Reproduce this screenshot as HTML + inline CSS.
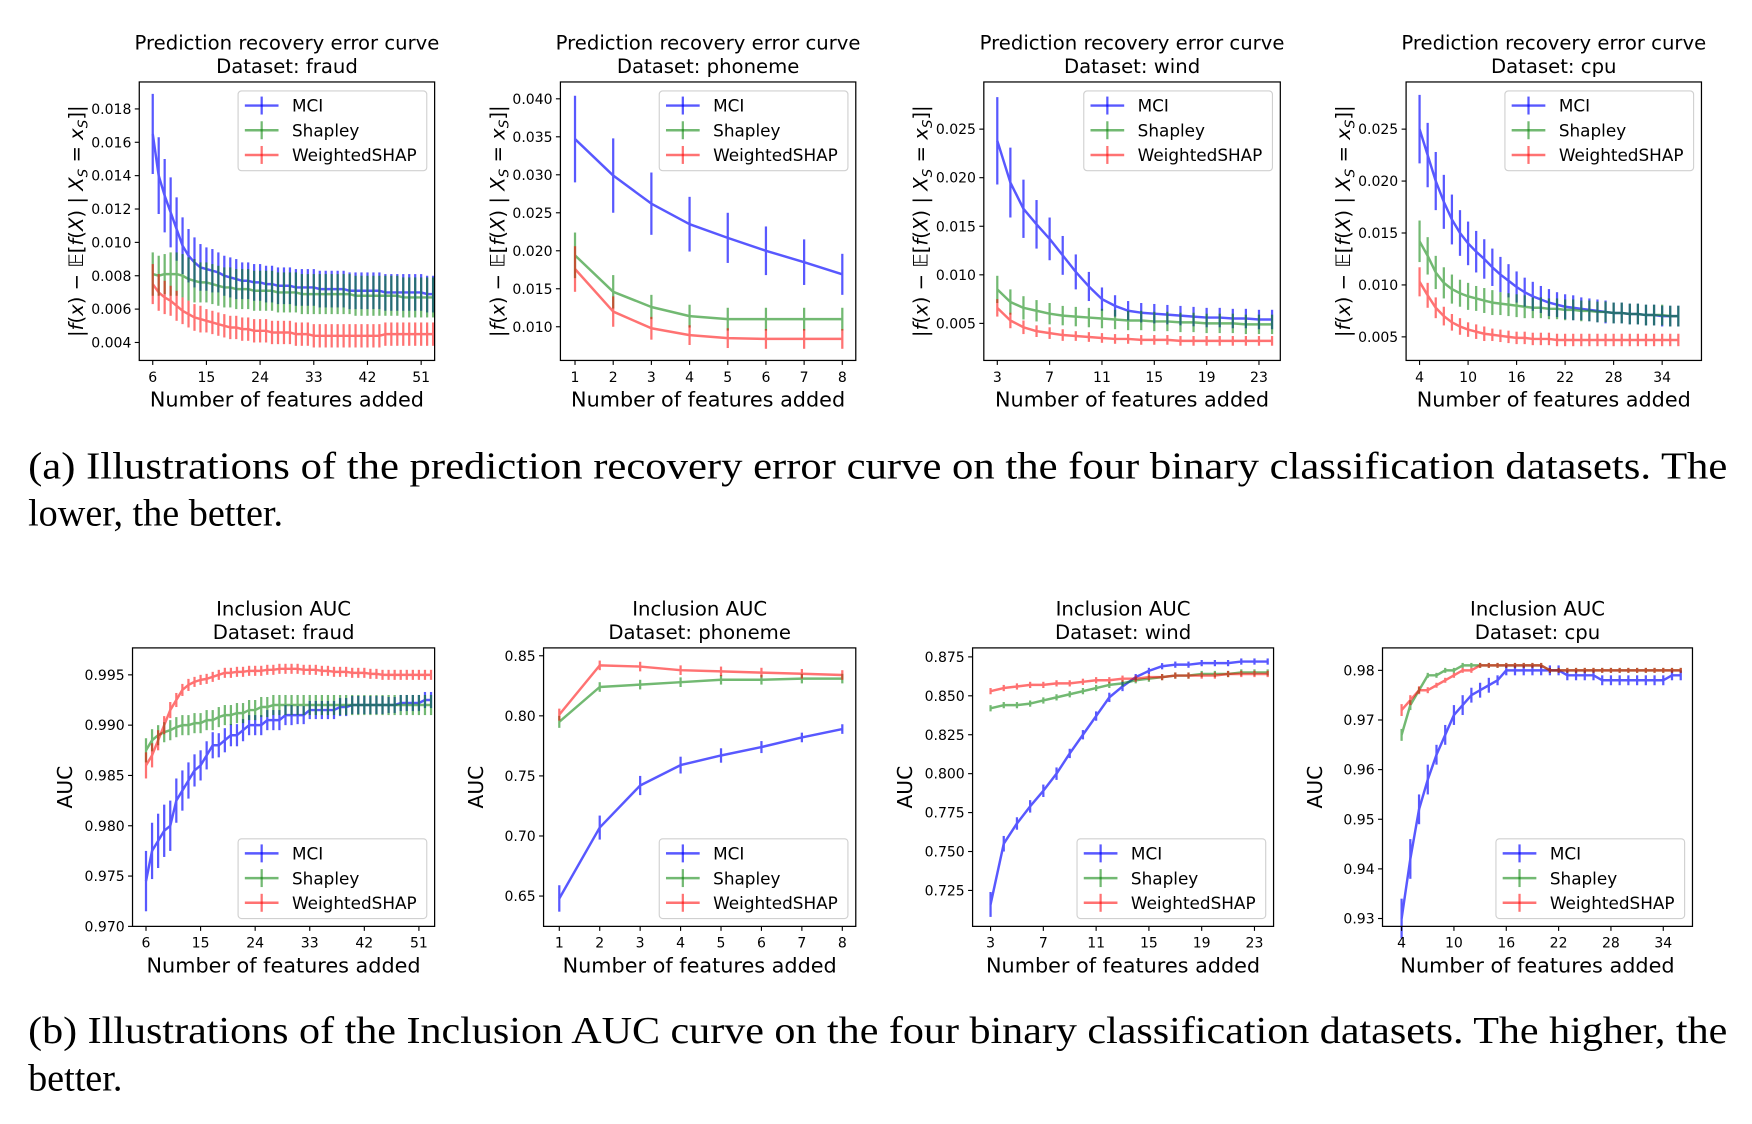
<!DOCTYPE html>
<html><head><meta charset="utf-8">
<style>
html,body{margin:0;padding:0;background:#fff;}
svg{display:block;}
text{font-family:"DejaVu Sans","Liberation Sans",sans-serif;fill:#000;}
.cap{font-family:"Liberation Serif",serif;font-size:34px;}
</style></head>
<body>
<svg id="fig" width="1752" height="1124" viewBox="0 0 1560 1001" preserveAspectRatio="none" xmlns="http://www.w3.org/2000/svg">
<text class="cap" x="25" y="426" textLength="1513" lengthAdjust="spacingAndGlyphs">(a) Illustrations of the prediction recovery error curve on the four binary classification datasets. The</text>
<text class="cap" x="25" y="468">lower, the better.</text>
<text class="cap" x="25" y="929" textLength="1513" lengthAdjust="spacingAndGlyphs">(b) Illustrations of the Inclusion AUC curve on the four binary classification datasets. The higher, the</text>
<text class="cap" x="25" y="971">better.</text>
</svg>
<script>
// ---------- DATA ----------
const seriesNames = ["MCI","Shapley","WeightedSHAP"];
// Row 1: prediction recovery error
const errFraudX0 = 6;
const errFraudMCI = [0.0165,0.0140,0.0128,0.0118,0.0108,0.0098,0.0092,0.0088,0.0085,0.0084,0.0083,0.0082,0.0080,0.0079,0.0078,0.0077,0.0077,0.0076,0.0076,0.0075,0.0075,0.0074,0.0074,0.0074,0.0073,0.0073,0.0073,0.0073,0.0072,0.0072,0.0072,0.0072,0.0072,0.0071,0.0071,0.0071,0.0071,0.0071,0.0071,0.0070,0.0070,0.0070,0.0070,0.0070,0.0070,0.0070,0.0069,0.0069];
const errFraudMCIe = [0.0024,0.0023,0.0022,0.0021,0.0019,0.0017,0.0016,0.0015,0.0014,0.0013,0.0013,0.0012,0.0012,0.0012,0.0012,0.0011,0.0011,0.0011,0.0011,0.0011,0.0011,0.0011,0.0011,0.0011,0.0011,0.0011,0.0011,0.0011,0.0011,0.0011,0.0011,0.0011,0.0011,0.0011,0.0011,0.0011,0.0011,0.0011,0.0011,0.0011,0.0011,0.0011,0.0011,0.0011,0.0011,0.0011,0.0011,0.0011];
const errFraudShap = [0.0081,0.0080,0.0081,0.0081,0.0081,0.0080,0.0078,0.0077,0.0076,0.0076,0.0075,0.0074,0.0073,0.0073,0.0072,0.0072,0.0072,0.0071,0.0071,0.0071,0.0071,0.0070,0.0070,0.0070,0.0070,0.0069,0.0069,0.0069,0.0069,0.0069,0.0069,0.0069,0.0069,0.0069,0.0068,0.0068,0.0068,0.0068,0.0068,0.0068,0.0068,0.0068,0.0067,0.0067,0.0067,0.0067,0.0067,0.0067];
const errFraudShape = [0.0013,0.0012,0.0012,0.0013,0.0013,0.0013,0.0013,0.0013,0.0012,0.0012,0.0012,0.0012,0.0012,0.0012,0.0012,0.0012,0.0012,0.0012,0.0012,0.0012,0.0012,0.0012,0.0012,0.0012,0.0012,0.0012,0.0012,0.0012,0.0012,0.0012,0.0012,0.0012,0.0012,0.0012,0.0012,0.0012,0.0012,0.0012,0.0012,0.0012,0.0012,0.0012,0.0012,0.0012,0.0012,0.0012,0.0012,0.0012];
const errFraudW = [0.0075,0.0070,0.0067,0.0065,0.0062,0.0059,0.0057,0.0055,0.0054,0.0053,0.0052,0.0051,0.0050,0.0049,0.0049,0.0048,0.0048,0.0047,0.0047,0.0047,0.0046,0.0046,0.0046,0.0046,0.0045,0.0045,0.0045,0.0044,0.0044,0.0044,0.0044,0.0044,0.0044,0.0044,0.0044,0.0044,0.0044,0.0044,0.0044,0.0045,0.0045,0.0045,0.0045,0.0045,0.0045,0.0045,0.0045,0.0045];
const errFraudWe = [0.0012,0.0011,0.0010,0.0009,0.0009,0.0008,0.0008,0.0008,0.0008,0.0007,0.0007,0.0007,0.0007,0.0007,0.0007,0.0007,0.0007,0.0007,0.0007,0.0007,0.0007,0.0007,0.0007,0.0007,0.0007,0.0007,0.0007,0.0007,0.0007,0.0007,0.0007,0.0007,0.0007,0.0007,0.0007,0.0007,0.0007,0.0007,0.0007,0.0007,0.0007,0.0007,0.0007,0.0007,0.0007,0.0007,0.0007,0.0007];

const errPhonX0 = 1;
const errPhonMCI = [0.0347,0.0299,0.0262,0.0235,0.0217,0.0200,0.0185,0.0169];
const errPhonMCIe = [0.0057,0.0049,0.0041,0.0036,0.0033,0.0032,0.0030,0.0027];
const errPhonShap = [0.0194,0.0146,0.0126,0.0114,0.0110,0.0110,0.0110,0.0110];
const errPhonShape = [0.0030,0.0022,0.0016,0.0015,0.0015,0.0015,0.0015,0.0015];
const errPhonW = [0.0176,0.0120,0.0098,0.0089,0.0085,0.0084,0.0084,0.0084];
const errPhonWe = [0.0030,0.0020,0.0015,0.0013,0.0013,0.0013,0.0013,0.0013];

const errWindX0 = 3;
const errWindMCI = [0.0238,0.0195,0.0168,0.0152,0.0137,0.0120,0.0103,0.0088,0.0075,0.0068,0.0063,0.0061,0.0060,0.0059,0.0058,0.0057,0.0056,0.0056,0.0055,0.0055,0.0054,0.0054];
const errWindMCIe = [0.0045,0.0036,0.0030,0.0025,0.0022,0.0020,0.0018,0.0015,0.0012,0.0011,0.0010,0.0010,0.0010,0.0010,0.0010,0.0010,0.0010,0.0010,0.0010,0.0010,0.0010,0.0010];
const errWindShap = [0.0085,0.0072,0.0066,0.0063,0.0060,0.0058,0.0057,0.0056,0.0055,0.0054,0.0053,0.0053,0.0052,0.0052,0.0051,0.0051,0.0050,0.0050,0.0050,0.0049,0.0049,0.0049];
const errWindShape = [0.0014,0.0013,0.0012,0.0011,0.0011,0.0010,0.0010,0.0010,0.0010,0.0010,0.0010,0.0010,0.0010,0.0010,0.0010,0.0010,0.0010,0.0010,0.0010,0.0010,0.0010,0.0010];
const errWindW = [0.0066,0.0053,0.0046,0.0042,0.0040,0.0038,0.0037,0.0036,0.0035,0.0034,0.0034,0.0033,0.0033,0.0033,0.0032,0.0032,0.0032,0.0032,0.0032,0.0032,0.0032,0.0032];
const errWindWe = [0.0009,0.0008,0.0007,0.0006,0.0006,0.0006,0.0005,0.0005,0.0005,0.0005,0.0005,0.0005,0.0005,0.0005,0.0005,0.0005,0.0005,0.0005,0.0005,0.0005,0.0005,0.0005];

const errCpuX0 = 4;
const errCpuMCI = [0.0250,0.0225,0.0200,0.0180,0.0163,0.0150,0.0140,0.0132,0.0125,0.0117,0.0110,0.0104,0.0098,0.0093,0.0089,0.0086,0.0083,0.0081,0.0079,0.0078,0.0077,0.0076,0.0075,0.0074,0.0073,0.0073,0.0072,0.0072,0.0071,0.0071,0.0070,0.0070,0.0070];
const errCpuMCIe = [0.0033,0.0031,0.0028,0.0026,0.0024,0.0022,0.0021,0.0020,0.0019,0.0018,0.0017,0.0016,0.0015,0.0014,0.0014,0.0013,0.0013,0.0012,0.0012,0.0012,0.0011,0.0011,0.0011,0.0011,0.0010,0.0010,0.0010,0.0010,0.0010,0.0010,0.0010,0.0010,0.0010];
const errCpuShap = [0.0142,0.0128,0.0112,0.0102,0.0096,0.0092,0.0089,0.0087,0.0085,0.0083,0.0082,0.0081,0.0080,0.0079,0.0078,0.0078,0.0077,0.0077,0.0076,0.0076,0.0075,0.0075,0.0074,0.0074,0.0073,0.0073,0.0072,0.0072,0.0071,0.0071,0.0071,0.0070,0.0070];
const errCpuShape = [0.0020,0.0018,0.0016,0.0015,0.0014,0.0013,0.0013,0.0012,0.0012,0.0012,0.0011,0.0011,0.0011,0.0011,0.0010,0.0010,0.0010,0.0010,0.0010,0.0010,0.0010,0.0010,0.0010,0.0010,0.0010,0.0010,0.0010,0.0010,0.0010,0.0010,0.0010,0.0010,0.0010];
const errCpuW = [0.0103,0.0090,0.0078,0.0070,0.0064,0.0060,0.0057,0.0055,0.0053,0.0052,0.0051,0.0050,0.0049,0.0049,0.0048,0.0048,0.0048,0.0047,0.0047,0.0047,0.0047,0.0047,0.0047,0.0047,0.0047,0.0047,0.0047,0.0047,0.0047,0.0047,0.0047,0.0047,0.0047];
const errCpuWe = [0.0014,0.0012,0.0010,0.0009,0.0008,0.0008,0.0007,0.0007,0.0007,0.0006,0.0006,0.0006,0.0006,0.0006,0.0006,0.0006,0.0006,0.0006,0.0006,0.0006,0.0006,0.0006,0.0006,0.0006,0.0006,0.0006,0.0006,0.0006,0.0006,0.0006,0.0006,0.0006,0.0006];

// Row 2: inclusion AUC
const aucFraudX0 = 6;
const aucFraudMCI = [0.9745,0.9775,0.9785,0.9795,0.9800,0.9825,0.9835,0.9845,0.9855,0.9860,0.9870,0.9880,0.9880,0.9885,0.9890,0.9890,0.9895,0.9900,0.9900,0.9900,0.9905,0.9905,0.9905,0.9910,0.9910,0.9910,0.9910,0.9915,0.9915,0.9915,0.9915,0.9915,0.9918,0.9918,0.9920,0.9920,0.9920,0.9920,0.9920,0.9920,0.9920,0.9920,0.9922,0.9922,0.9922,0.9922,0.9925,0.9925];
const aucFraudMCIe = [0.0030,0.0028,0.0027,0.0026,0.0025,0.0022,0.0020,0.0018,0.0016,0.0015,0.0014,0.0013,0.0012,0.0012,0.0011,0.0011,0.0011,0.0010,0.0010,0.0010,0.0010,0.0010,0.0010,0.0010,0.0010,0.0009,0.0009,0.0009,0.0009,0.0009,0.0009,0.0009,0.0009,0.0009,0.0009,0.0009,0.0009,0.0009,0.0009,0.0009,0.0008,0.0008,0.0008,0.0008,0.0008,0.0008,0.0008,0.0008];
const aucFraudShap = [0.9875,0.9885,0.9890,0.9893,0.9895,0.9898,0.9900,0.9900,0.9902,0.9902,0.9905,0.9905,0.9908,0.9910,0.9910,0.9912,0.9912,0.9915,0.9915,0.9918,0.9918,0.9920,0.9920,0.9920,0.9920,0.9920,0.9920,0.9920,0.9920,0.9920,0.9920,0.9920,0.9920,0.9920,0.9920,0.9920,0.9920,0.9920,0.9920,0.9920,0.9920,0.9920,0.9920,0.9920,0.9920,0.9920,0.9920,0.9920];
const aucFraudShape = [0.0012,0.0011,0.0010,0.0010,0.0010,0.0010,0.0010,0.0010,0.0010,0.0010,0.0010,0.0010,0.0010,0.0010,0.0010,0.0010,0.0010,0.0010,0.0010,0.0010,0.0010,0.0010,0.0010,0.0010,0.0010,0.0010,0.0010,0.0010,0.0010,0.0010,0.0010,0.0010,0.0010,0.0010,0.0010,0.0010,0.0010,0.0010,0.0010,0.0010,0.0010,0.0010,0.0010,0.0010,0.0010,0.0010,0.0010,0.0010];
const aucFraudW = [0.9860,0.9870,0.9885,0.9900,0.9915,0.9925,0.9935,0.9940,0.9943,0.9945,0.9946,0.9948,0.9950,0.9952,0.9952,0.9953,0.9953,0.9954,0.9954,0.9954,0.9955,0.9955,0.9956,0.9956,0.9956,0.9956,0.9955,0.9955,0.9955,0.9954,0.9954,0.9953,0.9953,0.9953,0.9952,0.9952,0.9952,0.9951,0.9951,0.9950,0.9950,0.9950,0.9950,0.9950,0.9950,0.9950,0.9950,0.9950];
const aucFraudWe = [0.0013,0.0012,0.0010,0.0009,0.0008,0.0007,0.0006,0.0006,0.0005,0.0005,0.0005,0.0005,0.0005,0.0005,0.0005,0.0005,0.0005,0.0005,0.0005,0.0005,0.0005,0.0005,0.0005,0.0005,0.0005,0.0005,0.0005,0.0005,0.0005,0.0005,0.0005,0.0005,0.0005,0.0005,0.0005,0.0005,0.0005,0.0005,0.0005,0.0005,0.0005,0.0005,0.0005,0.0005,0.0005,0.0005,0.0005,0.0005];

const aucPhonX0 = 1;
const aucPhonMCI = [0.648,0.707,0.742,0.759,0.767,0.774,0.782,0.789];
const aucPhonMCIe = [0.011,0.010,0.008,0.007,0.006,0.005,0.004,0.004];
const aucPhonShap = [0.795,0.824,0.826,0.828,0.830,0.830,0.831,0.831];
const aucPhonShape = [0.005,0.004,0.004,0.004,0.004,0.004,0.004,0.004];
const aucPhonW = [0.801,0.842,0.841,0.838,0.837,0.836,0.835,0.834];
const aucPhonWe = [0.005,0.004,0.004,0.004,0.004,0.004,0.004,0.004];

const aucWindX0 = 3;
const aucWindMCI = [0.716,0.755,0.768,0.779,0.789,0.800,0.813,0.825,0.837,0.849,0.856,0.862,0.866,0.869,0.870,0.870,0.871,0.871,0.871,0.872,0.872,0.872];
const aucWindMCIe = [0.008,0.005,0.004,0.004,0.004,0.004,0.003,0.003,0.003,0.003,0.003,0.002,0.002,0.002,0.002,0.002,0.002,0.002,0.002,0.002,0.002,0.002];
const aucWindShap = [0.842,0.844,0.844,0.845,0.847,0.849,0.851,0.853,0.855,0.857,0.858,0.860,0.861,0.862,0.863,0.863,0.864,0.864,0.864,0.865,0.865,0.865];
const aucWindShape = [0.002,0.002,0.002,0.002,0.002,0.002,0.002,0.002,0.002,0.002,0.002,0.002,0.002,0.002,0.002,0.002,0.002,0.002,0.002,0.002,0.002,0.002];
const aucWindW = [0.853,0.855,0.856,0.857,0.857,0.858,0.858,0.859,0.860,0.860,0.861,0.861,0.862,0.862,0.863,0.863,0.863,0.863,0.864,0.864,0.864,0.864];
const aucWindWe = [0.002,0.002,0.002,0.002,0.002,0.002,0.002,0.002,0.002,0.002,0.002,0.002,0.002,0.002,0.002,0.002,0.002,0.002,0.002,0.002,0.002,0.002];

const aucCpuX0 = 4;
const aucCpuMCI = [0.930,0.942,0.952,0.958,0.963,0.967,0.971,0.973,0.975,0.976,0.977,0.978,0.980,0.980,0.980,0.980,0.980,0.980,0.980,0.979,0.979,0.979,0.979,0.978,0.978,0.978,0.978,0.978,0.978,0.978,0.978,0.979,0.979];
const aucCpuMCIe = [0.004,0.004,0.003,0.003,0.002,0.002,0.002,0.002,0.0015,0.0015,0.0015,0.001,0.001,0.001,0.001,0.001,0.001,0.001,0.001,0.001,0.001,0.001,0.001,0.001,0.001,0.001,0.001,0.001,0.001,0.001,0.001,0.001,0.001];
const aucCpuShap = [0.967,0.973,0.976,0.979,0.979,0.980,0.980,0.981,0.981,0.981,0.981,0.981,0.981,0.981,0.981,0.981,0.981,0.980,0.980,0.980,0.980,0.980,0.980,0.980,0.980,0.980,0.980,0.980,0.980,0.980,0.980,0.980,0.980];
const aucCpuShape = [0.0012,0.001,0.0006,0.0005,0.0005,0.0005,0.0005,0.0005,0.0005,0.0005,0.0005,0.0005,0.0005,0.0005,0.0005,0.0005,0.0005,0.0005,0.0005,0.0005,0.0005,0.0005,0.0005,0.0005,0.0005,0.0005,0.0005,0.0005,0.0005,0.0005,0.0005,0.0005,0.0005];
const aucCpuW = [0.972,0.974,0.976,0.976,0.977,0.978,0.979,0.980,0.980,0.981,0.981,0.981,0.981,0.981,0.981,0.981,0.981,0.980,0.980,0.980,0.980,0.980,0.980,0.980,0.980,0.980,0.980,0.980,0.980,0.980,0.980,0.980,0.980];
const aucCpuWe = [0.0012,0.001,0.0008,0.0006,0.0005,0.0005,0.0005,0.0005,0.0005,0.0005,0.0005,0.0005,0.0005,0.0005,0.0005,0.0005,0.0005,0.0005,0.0005,0.0005,0.0005,0.0005,0.0005,0.0005,0.0005,0.0005,0.0005,0.0005,0.0005,0.0005,0.0005,0.0005,0.0005];

// tick labels
const errFraudYT = ["0.004","0.006","0.008","0.010","0.012","0.014","0.016","0.018"];
const errFraudXT = [6,15,24,33,42,51];
const errPhonYT = ["0.010","0.015","0.020","0.025","0.030","0.035","0.040"];
const errPhonXT = [1,2,3,4,5,6,7,8];
const errWindYT = ["0.005","0.010","0.015","0.020","0.025"];
const errWindXT = [3,7,11,15,19,23];
const errCpuYT = ["0.005","0.010","0.015","0.020","0.025"];
const errCpuXT = [4,10,16,22,28,34];
const aucFraudYT = ["0.970","0.975","0.980","0.985","0.990","0.995"];
const aucPhonYT = ["0.65","0.70","0.75","0.80","0.85"];
const aucWindYT = ["0.725","0.750","0.775","0.800","0.825","0.850","0.875"];
const aucCpuYT = ["0.93","0.94","0.95","0.96","0.97","0.98"];

// ---------- LAYOUT ----------
const NS = "http://www.w3.org/2000/svg";
const svg = document.getElementById('fig');
const colors = ["#0000ff","#008000","#ff0000"];
const opac = [0.65,0.55,0.55];
function mk(tag, attrs, parent){
  const e = document.createElementNS(NS, tag);
  for (const k in attrs) e.setAttribute(k, attrs[k]);
  (parent||svg).appendChild(e);
  return e;
}
const panels = [
 {id:"err-fraud", L:124,R:387,T:73,B:321, v0:0.004,p0:305,v1:0.018,p1:97, xa:6,xpa:136,xb:51,xpb:375, x0:errFraudX0, s:[[errFraudMCI,errFraudMCIe],[errFraudShap,errFraudShape],[errFraudW,errFraudWe]], yt:errFraudYT, xt:errFraudXT, title1:"Prediction recovery error curve", title2:"Dataset: fraud", row:1, legTop:true},
 {id:"err-phoneme", L:499,R:762,T:73,B:321, v0:0.010,p0:291,v1:0.040,p1:88, xa:1,xpa:512,xb:8,xpb:750, x0:errPhonX0, s:[[errPhonMCI,errPhonMCIe],[errPhonShap,errPhonShape],[errPhonW,errPhonWe]], yt:errPhonYT, xt:errPhonXT, title1:"Prediction recovery error curve", title2:"Dataset: phoneme", row:1, legTop:true},
 {id:"err-wind", L:876,R:1140,T:73,B:321, v0:0.005,p0:288,v1:0.025,p1:115, xa:3,xpa:888,xb:23,xpb:1121, x0:errWindX0, s:[[errWindMCI,errWindMCIe],[errWindShap,errWindShape],[errWindW,errWindWe]], yt:errWindYT, xt:errWindXT, title1:"Prediction recovery error curve", title2:"Dataset: wind", row:1, legTop:true},
 {id:"err-cpu", L:1252,R:1515,T:73,B:321, v0:0.005,p0:300,v1:0.025,p1:115, xa:4,xpa:1264,xb:34,xpb:1480, x0:errCpuX0, s:[[errCpuMCI,errCpuMCIe],[errCpuShap,errCpuShape],[errCpuW,errCpuWe]], yt:errCpuYT, xt:errCpuXT, title1:"Prediction recovery error curve", title2:"Dataset: cpu", row:1, legTop:true},
 {id:"auc-fraud", L:118,R:387,T:577,B:825, v0:0.970,p0:825,v1:0.995,p1:601, xa:6,xpa:130,xb:51,xpb:373, x0:aucFraudX0, s:[[aucFraudMCI,aucFraudMCIe],[aucFraudShap,aucFraudShape],[aucFraudW,aucFraudWe]], yt:aucFraudYT, xt:errFraudXT, title1:"Inclusion AUC", title2:"Dataset: fraud", row:2, legTop:false},
 {id:"auc-phoneme", L:484,R:762,T:577,B:825, v0:0.65,p0:798,v1:0.85,p1:584, xa:1,xpa:498,xb:8,xpb:750, x0:aucPhonX0, s:[[aucPhonMCI,aucPhonMCIe],[aucPhonShap,aucPhonShape],[aucPhonW,aucPhonWe]], yt:aucPhonYT, xt:errPhonXT, title1:"Inclusion AUC", title2:"Dataset: phoneme", row:2, legTop:false},
 {id:"auc-wind", L:866,R:1134,T:577,B:825, v0:0.725,p0:793,v1:0.875,p1:585, xa:3,xpa:882,xb:23,xpb:1117, x0:aucWindX0, s:[[aucWindMCI,aucWindMCIe],[aucWindShap,aucWindShape],[aucWindW,aucWindWe]], yt:aucWindYT, xt:errWindXT, title1:"Inclusion AUC", title2:"Dataset: wind", row:2, legTop:false},
 {id:"auc-cpu", L:1231,R:1507,T:577,B:825, v0:0.93,p0:818,v1:0.98,p1:597, xa:4,xpa:1248,xb:34,xpb:1481, x0:aucCpuX0, s:[[aucCpuMCI,aucCpuMCIe],[aucCpuShap,aucCpuShape],[aucCpuW,aucCpuWe]], yt:aucCpuYT, xt:errCpuXT, title1:"Inclusion AUC", title2:"Dataset: cpu", row:2, legTop:false}
];

panels.forEach(p => {
  const g = mk('g', {});
  
  
  const X = v => p.xpa + (v - p.xa) * (p.xpb - p.xpa) / (p.xb - p.xa);
  const Y = v => p.p0 + (v - p.v0) * (p.p1 - p.p0) / (p.v1 - p.v0);
  const cx = (p.L + p.R) / 2;
  const t1 = mk('text', {x:cx, y:p.T-29, 'text-anchor':'middle', 'font-size':'17.5'}, g);
  t1.textContent = p.title1;
  
  
  const t2 = mk('text', {x:cx, y:p.T-8, 'text-anchor':'middle', 'font-size':'17.5'}, g);
  t2.textContent = p.title2;
  
  
  p.s.forEach((ser, si) => {
    const vals = ser[0], errs = ser[1];
    const sg = mk('g', {opacity:opac[si]}, g);
    
    
    let d = '';
    vals.forEach((v, i) => {
      const xv = X(p.x0 + i);
      d += (i ? 'L' : 'M') + xv.toFixed(2) + ' ' + Y(v).toFixed(2);
      const eb = mk('line', {x1:xv, x2:xv, y1:Y(v - errs[i]), y2:Y(v + errs[i]), stroke:colors[si], 'stroke-width':2}, sg);
      
      
    });
    const ln = mk('path', {d:d, fill:'none', stroke:colors[si], 'stroke-width':2.2, 'stroke-linejoin':'round'}, sg);
    
    
  });
  const fr = mk('rect', {x:p.L, y:p.T, width:p.R-p.L, height:p.B-p.T, fill:'none', stroke:'#000', 'stroke-width':1.1}, g);
  
  
  p.yt.forEach(lbl => {
    const yy = Y(parseFloat(lbl));
    const tk = mk('line', {x1:p.L-4, x2:p.L, y1:yy, y2:yy, stroke:'#000', 'stroke-width':1}, g);
    
    
    const tt = mk('text', {x:p.L-7, y:yy+4.5, 'text-anchor':'end', 'font-size':'12.5'}, g);
    tt.textContent = lbl;
    
    
  });
  p.xt.forEach(v => {
    const xx = X(v);
    const tk = mk('line', {x1:xx, x2:xx, y1:p.B, y2:p.B+4, stroke:'#000', 'stroke-width':1}, g);
    
    
    const tt = mk('text', {x:xx, y:p.B+19, 'text-anchor':'middle', 'font-size':'12.5'}, g);
    tt.textContent = v;
    
    
  });
  const xl = mk('text', {x:cx, y:p.B+41, 'text-anchor':'middle', 'font-size':'18.5'}, g);
  xl.textContent = 'Number of features added';
  
  
  const ylx = p.row === 1 ? p.L - 50 : p.L - 54;
  const ycy = (p.T + p.B) / 2;
  const yl = mk('text', {x:ylx, y:ycy, 'text-anchor':'middle', 'font-size': p.row===1 ? '17.5' : '18', transform:'rotate(-90 '+ylx+' '+ycy+')'}, g);
  if (p.row === 1) {
    yl.innerHTML = '|<tspan font-style="italic">f</tspan>(<tspan font-style="italic">x</tspan>) − 𝔼[<tspan font-style="italic">f</tspan>(<tspan font-style="italic">X</tspan>) | <tspan font-style="italic">X</tspan><tspan font-size="12" dy="4" font-style="italic">S</tspan><tspan dy="-4"> = </tspan><tspan font-style="italic">x</tspan><tspan font-size="12" dy="4" font-style="italic">S</tspan><tspan dy="-4">]|</tspan>';
  } else {
    yl.textContent = 'AUC';
  }
  
  
  const lw = 168, lh = 71;
  const lx = p.R - 7 - lw;
  const ly = p.legTop ? p.T + 8 : p.B - 7 - lh;
  const lg = mk('g', {}, g);
  
  
  mk('rect', {x:lx, y:ly, width:lw, height:lh, rx:3, fill:'#fff', 'fill-opacity':0.85, stroke:'#d0d0d0', 'stroke-width':1}, lg);
  seriesNames.forEach((n, si) => {
    const yy = ly + 13 + si * 22;
    const e = mk('g', {}, lg);
    
    
    mk('line', {x1:lx+6, x2:lx+36, y1:yy, y2:yy, stroke:colors[si], 'stroke-width':2.2, opacity:opac[si]}, e);
    mk('line', {x1:lx+21, x2:lx+21, y1:yy-8, y2:yy+8, stroke:colors[si], 'stroke-width':2, opacity:opac[si]}, e);
    const tt = mk('text', {x:lx+48, y:yy+5.5, 'font-size':'15'}, e);
    tt.textContent = n;
  });
});
</script>
</body></html>
